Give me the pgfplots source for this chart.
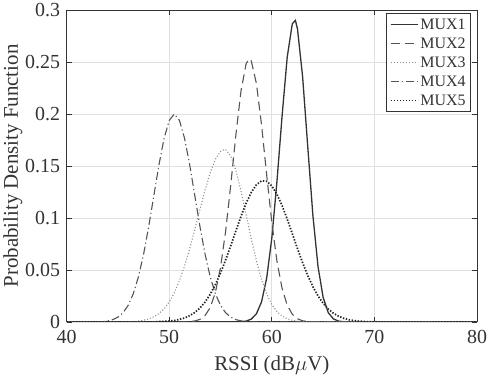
\documentclass[border=0pt]{standalone}
\usepackage{fontspec}
\setmainfont{Liberation Serif}
\usepackage{pgfplots}
\pgfplotsset{compat=1.18}
\definecolor{c1}{HTML}{333333}
\definecolor{c2}{HTML}{555555}
\definecolor{c3}{HTML}{8A8A8A}
\definecolor{c4}{HTML}{555555}
\definecolor{c5}{HTML}{222222}
\begin{document}
\begin{tikzpicture}
\begin{axis}[
  scale only axis,
  width=412pt, height=313pt,
  xmin=40, xmax=80, ymin=0, ymax=0.3,
  xtick={40,50,60,70,80},
  ytick={0,0.05,0.1,0.15,0.2,0.25,0.3},
  yticklabels={0,0.05,0.1,0.15,0.2,0.25,0.3},
  tick align=inside,
  major tick length=5pt,
  tick style={color=c1, line width=0.8pt},
  axis line style={color=c1, line width=1pt},
  grid=major,
  major grid style={color=black!12, line width=0.7pt},
  /pgf/number format/assume math mode=true,
  tick label style={font=\fontsize{20}{24}\selectfont, color=c1},
  label style={font=\fontsize{21}{25}\selectfont, color=c1},
  xlabel={RSSI (dB$\mu$V)},
  ylabel={Probability Density Function},
  xlabel style={yshift=-8pt, inner ysep=1pt},
  ylabel style={yshift=-4pt},
  xticklabel style={yshift=-5pt, inner xsep=2pt},
  yticklabel style={xshift=-3pt},
  legend cell align=left,
  legend style={at={(rel axis cs:0.985,0.99)}, anchor=north east,
    font=\fontsize{16}{18}\selectfont, draw=c1, line width=0.8pt,
    row sep=3pt, inner sep=3pt, text=c1},
  legend image code/.code={\draw[#1] (0pt,0pt) -- (27pt,0pt);},
]
% MUX1
\addplot[color=c1, line width=1.3pt] coordinates {
(40,0) (56.5,0) (57,0.0002) (57.5,0.0008) (58,0.0027) (58.5,0.0078) (59,0.0193)
(59.5,0.0422) (60,0.0806) (60.5,0.135) (61,0.198) (61.5,0.2547) (62,0.287)
(62.3,0.290) (62.5,0.282) (63,0.236) (63.5,0.1689) (64,0.1028) (64.5,0.0534)
(65,0.0236) (65.5,0.0089) (66,0.0029) (66.5,0.0008) (67,0.0002) (67.5,0) (80,0)
};
\addlegendentry{MUX1}
% MUX2
\addplot[color=c2, line width=1.1pt, dash pattern=on 9pt off 5pt] coordinates {
(40,0) (51.5,0) (52,0.0003) (52.5,0.0009) (53,0.0025) (53.5,0.0062) (54,0.0139)
(54.5,0.0283) (55,0.0523) (55.5,0.0873) (56,0.1319) (56.5,0.1801) (57,0.2225)
(57.5,0.2485) (57.8,0.253) (58,0.2510) (58.5,0.2293) (59,0.1894) (59.5,0.1415)
(60,0.0956) (60.5,0.0584) (61,0.0323) (61.5,0.0161) (62,0.0073) (62.5,0.0030)
(63,0.0011) (63.5,0.0004) (64,0.0001) (64.5,0) (80,0)
};
\addlegendentry{MUX2}
% MUX3
\addplot[color=c3, line width=1.1pt, dash pattern=on 1pt off 2pt] coordinates {
(40,0) (46.5,0) (47,0.0009) (47.5,0.0016) (48,0.0029) (48.5,0.0049) (49,0.0080)
(49.5,0.0126) (50,0.0192) (50.5,0.0281) (51,0.0397) (51.5,0.0539) (52,0.0706)
(52.5,0.0891) (53,0.1084) (53.5,0.1271) (54,0.1436) (54.5,0.1564) (55,0.1640)
(55.4,0.166) (55.5,0.1658) (56,0.1597) (56.5,0.1456) (57,0.1258) (57.5,0.1030)
(58,0.0799) (58.5,0.0587) (59,0.0409) (59.5,0.0269) (60,0.0168) (60.5,0.0100)
(61,0.0056) (61.5,0.0030) (62,0.0015) (62.5,0.0007) (63,0.0003) (63.5,0) (80,0)
};
\addlegendentry{MUX3}
% MUX4
\addplot[color=c4, line width=1.1pt, dash pattern=on 8pt off 3pt on 1.2pt off 3pt] coordinates {
(40,0) (43.5,0) (44,0.0010) (44.5,0.0022) (45,0.0046) (45.5,0.0088) (46,0.0159)
(46.5,0.0271) (47,0.0433) (47.5,0.0649) (48,0.0916) (48.5,0.1213) (49,0.1510)
(49.5,0.1765) (50,0.1938) (50.5,0.2000) (51,0.1938) (51.5,0.1765) (52,0.1510)
(52.5,0.1213) (53,0.0916) (53.5,0.0649) (54,0.0433) (54.5,0.0271) (55,0.0159)
(55.5,0.0088) (56,0.0046) (56.5,0.0022) (57,0.0010) (57.5,0.0004) (58,0) (80,0)
};
\addlegendentry{MUX4}
% MUX5
\addplot[color=c5, line width=1.7pt, dash pattern=on 1.4pt off 1.6pt] coordinates {
(40,0) (48.5,0) (49,0.0003) (49.5,0.0005) (50,0.0008) (50.5,0.0014) (51,0.0024)
(51.5,0.0038) (52,0.0060) (52.5,0.0091) (53,0.0134) (53.5,0.0192) (54,0.0266)
(54.5,0.0359) (55,0.0470) (55.5,0.0596) (56,0.0734) (56.5,0.0876) (57,0.1016)
(57.5,0.1143) (58,0.1247) (58.5,0.1320) (59,0.1357) (59.5,0.1353) (60,0.1308)
(60.5,0.1228) (61,0.1119) (61.5,0.0989) (62,0.0848) (62.5,0.0705) (63,0.0570)
(63.5,0.0446) (64,0.0339) (64.5,0.0250) (65,0.0179) (65.5,0.0124) (66,0.0084)
(66.5,0.0055) (67,0.0035) (67.5,0.0021) (68,0.0013) (68.5,0.0007) (69,0.0004)
(69.5,0.0002) (70,0.0001) (70.5,0) (80,0)
};
\addlegendentry{MUX5}
\end{axis}
\end{tikzpicture}
\end{document}
